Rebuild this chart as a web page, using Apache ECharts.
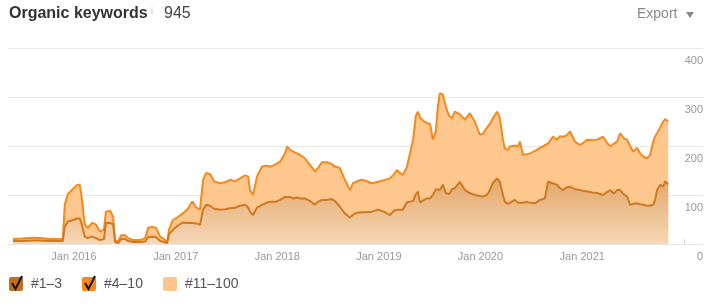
<!DOCTYPE html>
<html lang="en" style="height: 100%">
<head>
  <meta charset="UTF-8">
</head>
<body style="height: 100%; margin: 0; background: #fff">
  <div id="container" style="width: 724px; height: 306px"></div>

  <script type="text/javascript" src="https://fastly.jsdelivr.net/npm/echarts@6/dist/echarts.min.js"></script>
  <script type="text/javascript">
// dates of the samples
var dates = [
  '2015-05-27', '2015-06-28', '2015-08-06', '2015-09-01', '2015-10-07', '2015-11-12', '2015-11-22', '2015-11-29',
  '2015-12-10', '2015-12-24', '2016-01-11', '2016-01-22', '2016-01-29', '2016-02-09', '2016-02-20', '2016-03-06',
  '2016-03-20', '2016-04-04', '2016-04-18', '2016-04-25', '2016-05-10', '2016-05-21', '2016-05-28', '2016-06-08',
  '2016-06-19', '2016-07-03', '2016-07-14', '2016-08-01', '2016-08-26', '2016-09-13', '2016-09-24', '2016-10-08',
  '2016-10-22', '2016-11-06', '2016-11-20', '2016-12-01', '2016-12-08', '2016-12-22', '2017-01-09', '2017-01-27',
  '2017-02-14', '2017-03-01', '2017-03-15', '2017-03-29', '2017-04-09', '2017-04-20', '2017-05-04', '2017-05-19',
  '2017-06-09', '2017-06-27', '2017-07-15', '2017-08-02', '2017-08-20', '2017-09-07', '2017-09-18', '2017-09-25',
  '2017-10-06', '2017-10-20', '2017-11-07', '2017-11-22', '2017-12-06', '2017-12-24', '2018-01-11', '2018-01-29',
  '2018-02-05', '2018-02-16', '2018-02-26', '2018-03-13', '2018-03-24', '2018-04-10', '2018-04-28', '2018-05-16',
  '2018-05-27', '2018-06-11', '2018-06-29', '2018-07-13', '2018-07-27', '2018-08-14', '2018-09-01', '2018-09-19',
  '2018-09-30', '2018-10-14', '2018-11-01', '2018-11-19', '2018-12-07', '2018-12-29', '2019-01-19', '2019-02-10',
  '2019-02-24', '2019-03-07', '2019-03-18', '2019-03-28', '2019-04-12', '2019-04-23', '2019-05-04', '2019-05-14',
  '2019-05-21', '2019-05-29', '2019-06-12', '2019-06-23', '2019-07-04', '2019-07-14', '2019-07-25', '2019-08-01',
  '2019-08-08', '2019-08-19', '2019-08-30', '2019-09-10', '2019-09-21', '2019-10-01', '2019-10-19', '2019-11-06',
  '2019-11-24', '2019-12-12', '2019-12-30', '2020-01-10', '2020-01-24', '2020-02-04', '2020-02-15', '2020-03-01',
  '2020-03-11', '2020-03-22', '2020-03-29', '2020-04-09', '2020-04-16', '2020-05-04', '2020-05-15', '2020-05-22',
  '2020-06-02', '2020-06-16', '2020-06-27', '2020-07-15', '2020-08-02', '2020-08-20', '2020-08-31', '2020-09-18',
  '2020-10-02', '2020-10-13', '2020-10-24', '2020-11-07', '2020-11-18', '2020-12-06', '2020-12-24', '2021-01-08',
  '2021-01-19', '2021-02-06', '2021-02-23', '2021-03-17', '2021-03-31', '2021-04-11', '2021-04-25', '2021-05-06',
  '2021-05-17', '2021-06-01', '2021-06-11', '2021-06-22', '2021-07-03', '2021-07-17', '2021-07-28', '2021-08-08',
  '2021-08-22', '2021-09-02', '2021-09-13', '2021-09-20', '2021-09-27', '2021-10-08', '2021-10-19', '2021-10-26',
  '2021-11-06'
];

// keywords ranking #1-3
var top3 = [
  6, 6, 7, 7, 6, 6, 6, 35,
  46, 48, 52, 52, 40, 15, 12, 15,
  12, 8, 10, 43, 43, 40, 4, 2,
  10, 10, 6, 4, 4, 5, 14, 15,
  14, 6, 4, 2, 20, 29, 38, 44,
  43, 43, 42, 39, 70, 80, 78, 72,
  70, 71, 73, 74, 78, 80, 75, 66,
  59, 74, 80, 84, 86, 86, 90, 96,
  100, 96, 93, 95, 93, 93, 88, 80,
  86, 90, 90, 92, 88, 76, 62, 54,
  60, 64, 65, 65, 66, 70, 66, 59,
  68, 70, 70, 70, 85, 86, 88, 102,
  107, 85, 90, 93, 93, 100, 112, 114,
  110, 121, 104, 102, 112, 114, 127, 110,
  104, 100, 98, 97, 100, 110, 125, 134,
  127, 100, 86, 82, 80, 90, 84, 80,
  84, 86, 84, 83, 90, 93, 127, 124,
  121, 114, 110, 116, 117, 112, 110, 108,
  107, 105, 104, 100, 106, 110, 103, 110,
  110, 100, 97, 80, 82, 83, 81, 80,
  78, 78, 80, 90, 110, 121, 117, 128,
  122
];

// keywords ranking #1-10 (top of the #4-10 band)
var top10 = [
  10, 11, 13, 12, 10, 10, 10, 80,
  102, 110, 120, 121, 95, 40, 33, 43,
  40, 25, 30, 66, 68, 55, 8, 5,
  18, 18, 12, 8, 8, 12, 33, 35,
  33, 15, 10, 3, 30, 49, 55, 63,
  72, 87, 75, 70, 130, 145, 143, 128,
  124, 126, 131, 128, 134, 140, 138, 110,
  100, 138, 158, 160, 158, 162, 168, 185,
  199, 192, 189, 185, 182, 175, 162, 148,
  155, 167, 167, 164, 158, 155, 131, 110,
  124, 128, 131, 128, 124, 127, 130, 134,
  142, 151, 145, 141, 158, 185, 213, 262,
  270, 258, 250, 247, 245, 213, 230, 280,
  308, 305, 280, 262, 257, 270, 265, 254,
  267, 250, 223, 225, 237, 245, 257, 270,
  257, 213, 195, 192, 199, 201, 199, 209,
  182, 183, 185, 190, 196, 202, 205, 219,
  213, 220, 219, 222, 230, 209, 202, 208,
  213, 212, 213, 219, 207, 199, 205, 209,
  226, 215, 213, 200, 189, 196, 185, 179,
  175, 182, 209, 220, 226, 238, 250, 255,
  250
];

var yearLabels = ['Jan 2016', 'Jan 2017', 'Jan 2018', 'Jan 2019', 'Jan 2020', 'Jan 2021'];
var legendNames = ['#1\u20133', '#4\u201310', '#11\u2013100'];
var legendColors = ['#c46d1c', '#f7891c', '#fdc48b'];
var legendChecked = [true, true, false];

var dom = document.getElementById('container');
var myChart = echarts.init(dom, null, { renderer: 'canvas' });

function pairs(vals) {
  return dates.map(function (d, i) { return [d, vals[i]]; });
}

var FONT = '"Liberation Sans", Arial, sans-serif';

// legend drawn as checkboxes
var legendX = [9, 82, 163];
var legendGraphics = [];
legendNames.forEach(function (name, i) {
  var x = legendX[i];
  legendGraphics.push({
    type: 'rect',
    left: x, top: 277,
    shape: { width: 14, height: 14, r: 2 },
    style: { fill: legendColors[i] }
  });
  if (legendChecked[i]) {
    legendGraphics.push({
      type: 'polyline',
      shape: { points: [[x + 3, 283], [x + 6.5, 289], [x + 13, 276]] },
      style: { stroke: '#111', lineWidth: 2, fill: null }
    });
  }
  legendGraphics.push({
    type: 'text',
    left: x + 22, top: 277,
    style: { text: name, fill: '#555', font: '14px ' + FONT }
  });
});

var option = {
  backgroundColor: '#fff',
  animation: false,
  textStyle: { fontFamily: FONT },
  grid: { left: 8, right: 21, top: 48, bottom: 62 },
  xAxis: {
    type: 'time',
    min: '2015-05-09',
    max: '2022-03-11',
    minInterval: 365 * 24 * 3600 * 1000,
    maxInterval: 366 * 24 * 3600 * 1000,
    axisLine: { show: false },
    axisTick: { show: true, inside: true, length: 5, lineStyle: { color: 'rgba(190,190,190,0.7)' } },
    splitLine: { show: false },
    axisLabel: {
      color: '#999',
      fontSize: 11,
      fontFamily: FONT,
      margin: 7,
      hideOverlap: false,
      formatter: function (v) {
        var lbl = 'Jan ' + new Date(v).getFullYear();
        return yearLabels.indexOf(lbl) >= 0 ? lbl : '';
      }
    }
  },
  yAxis: {
    type: 'value',
    position: 'right',
    min: 0, max: 400, interval: 100,
    axisLine: { show: false },
    axisTick: { show: false },
    splitLine: { lineStyle: { color: '#e6e6e6', width: 1 } },
    axisLabel: {
      inside: true,
      margin: 0,
      color: '#999',
      fontSize: 11,
      fontFamily: FONT,
      verticalAlign: 'top',
      padding: [7, 0, 0, 0]
    }
  },
  series: [
    {
      name: '#4\u201310',
      type: 'line',
      data: pairs(top10),
      showSymbol: false,
      z: 2,
      lineStyle: { color: '#f5891d', width: 2 },
      areaStyle: { color: '#fdc78e', opacity: 1 }
    },
    {
      name: '#1\u20133',
      type: 'line',
      data: pairs(top3),
      showSymbol: false,
      z: 3,
      lineStyle: { color: '#cd7a20', width: 2 },
      areaStyle: {
        opacity: 1,
        color: new echarts.graphic.LinearGradient(0, 0, 0, 1, [
          { offset: 0, color: '#e3a66a' },
          { offset: 1, color: '#f6d8b6' }
        ])
      }
    }
  ],
  graphic: [
    {
      type: 'text', left: 9, top: 6,
      style: { text: 'Organic keywords', fill: '#333', font: 'bold 16px ' + FONT }
    },
    {
      type: 'text', left: 151, top: 7,
      style: { text: 'i', fill: '#bbb', font: '9px ' + FONT }
    },
    {
      type: 'text', left: 164, top: 6,
      style: { text: '945', fill: '#444', font: '16px ' + FONT }
    },
    {
      type: 'text', left: 637, top: 7,
      style: { text: 'Export', fill: '#888', font: '14px ' + FONT }
    },
    {
      type: 'polygon',
      shape: { points: [[686, 12], [694, 12], [690, 18]] },
      style: { fill: '#888' }
    }
  ].concat(legendGraphics)
};

myChart.setOption(option);
window.addEventListener('resize', myChart.resize);
  </script>
</body>
</html>
